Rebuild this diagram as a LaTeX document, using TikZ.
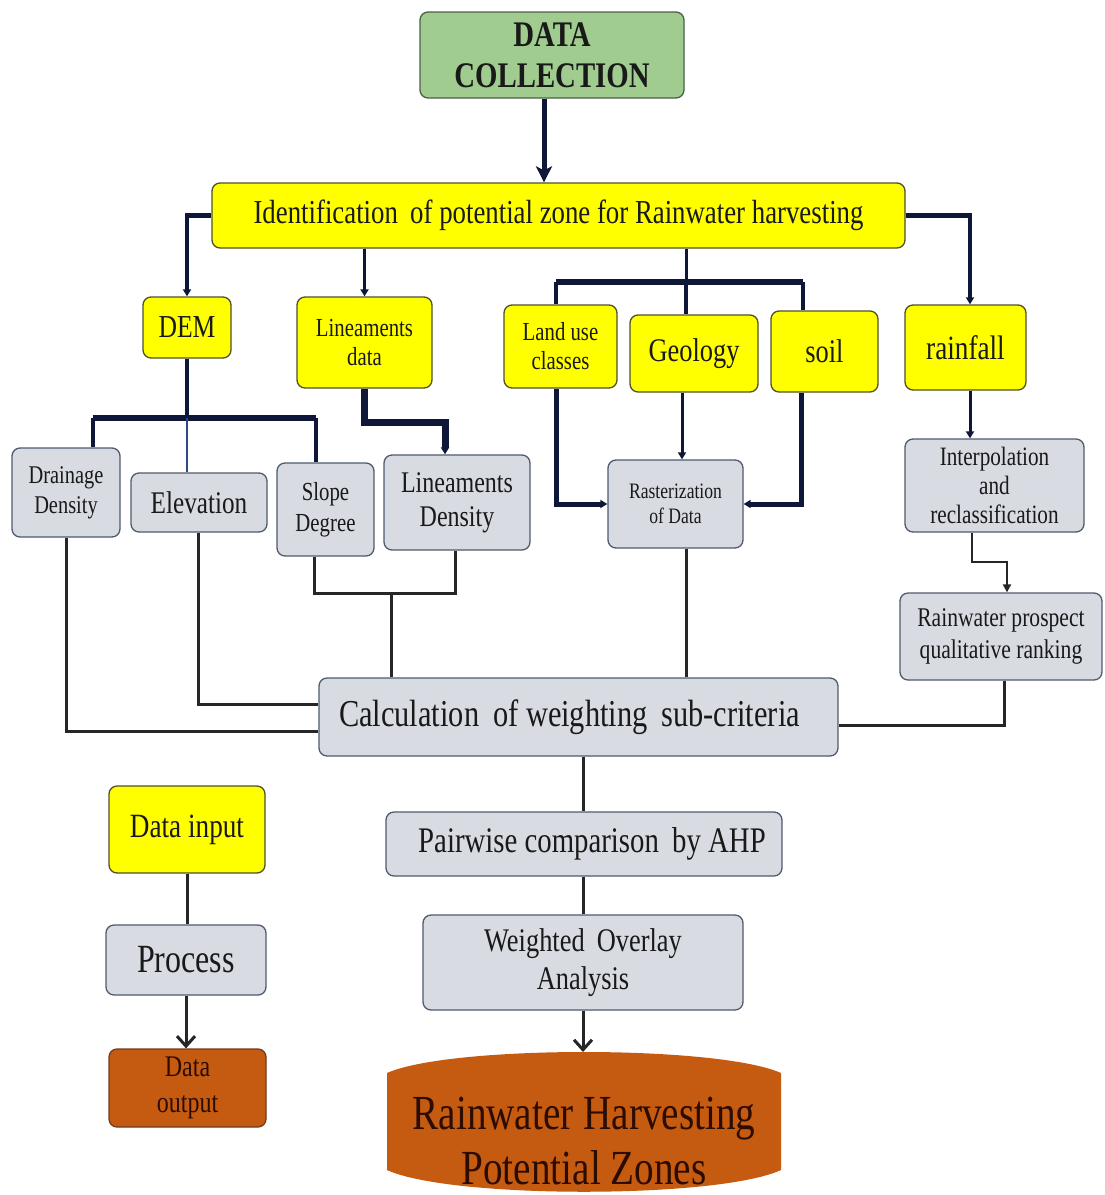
\documentclass[tikz,border=0pt]{standalone}
\usepackage{fontspec}
\setmainfont[FakeStretch=0.8]{Liberation Serif}
\usetikzlibrary{arrows.meta,calc}
\definecolor{yellowc}{RGB}{255,255,0}
\definecolor{yedge}{RGB}{80,80,40}
\definecolor{grayc}{RGB}{216,219,226}
\definecolor{gedge}{RGB}{78,90,110}
\definecolor{greenc}{RGB}{160,204,143}
\definecolor{greenedge}{RGB}{75,95,70}
\definecolor{orangec}{RGB}{197,90,17}
\definecolor{oedge}{RGB}{110,60,30}
\definecolor{navyc}{RGB}{14,23,56}
\definecolor{linec}{RGB}{38,38,38}
\definecolor{bluethin}{RGB}{45,70,135}
\definecolor{txt}{RGB}{25,25,25}
\definecolor{otxt}{RGB}{45,12,0}
\newcommand{\fsz}[2]{\fontsize{#1}{#2}\selectfont}
\tikzset{
  box/.style={rectangle, rounded corners=8pt, line width=1.3pt, align=center, inner sep=1pt, text=txt},
  ybox/.style={box, fill=yellowc, draw=yedge},
  gbox/.style={box, fill=grayc, draw=gedge},
  obox/.style={box, fill=orangec, draw=oedge, text=otxt},
  dcbox/.style={box, fill=greenc, draw=greenedge},
  nav/.style={draw=navyc, line join=miter},
  low/.style={draw=linec, line width=3pt, line join=miter},
  tip/.style={-{Triangle[length=7pt,width=8pt]}},
  bigtip/.style={-{Stealth[length=16pt,width=16pt,inset=4pt]}},
  barb/.style={-{Straight Barb[length=10pt,width=18pt,line width=3pt]}}
}
\begin{document}
\begin{tikzpicture}[x=1pt,y=-1pt]
\useasboundingbox (0,0) rectangle (1104,1195);
% ---------- nodes ----------
\node[dcbox, minimum width=264, minimum height=86, font={\fsz{36}{41}\bfseries}] (dc) at (552,55) {DATA\\COLLECTION};
\node[ybox, minimum width=693, minimum height=65, font={\fsz{33.5}{36}}] (ident) at (558.5,215.5) {Identification\, of potential zone for Rainwater harvesting};
\node[ybox, minimum width=88, minimum height=61, font={\fsz{32}{34}}] (dem) at (187,327.5) {DEM};
\node[ybox, minimum width=135, minimum height=91, font={\fsz{26}{29}}] (lindata) at (364.5,342.5) {Lineaments\\data};
\node[ybox, minimum width=113, minimum height=83, font={\fsz{26}{29}}] (landuse) at (560.5,346.5) {Land use\\classes};
\node[ybox, minimum width=128, minimum height=77, font={\fsz{33}{36}}] (geology) at (694,353.5) {Geology};
\node[ybox, minimum width=107, minimum height=81, font={\fsz{33}{36}}] (soil) at (824.5,351.5) {soil};
\node[ybox, minimum width=121, minimum height=85, font={\fsz{34}{36}}] (rainfall) at (965.5,347.5) {rainfall};
\node[gbox, minimum width=108, minimum height=89, font={\fsz{25.5}{30}}] (drainage) at (66,492.5) {Drainage\\Density};
\node[gbox, minimum width=136, minimum height=59, font={\fsz{31.5}{34}}] (elevation) at (199,502.5) {Elevation};
\node[gbox, minimum width=97, minimum height=93, font={\fsz{26}{31}}] (slope) at (325.5,509.5) {Slope\\Degree};
\node[gbox, minimum width=146, minimum height=95, font={\fsz{30}{34}}] (lindens) at (457,502.5) {Lineaments\\Density};
\node[gbox, minimum width=135, minimum height=88, font={\fsz{22}{25}}] (raster) at (675.5,504) {Rasterization\\of Data};
\node[gbox, minimum width=179, minimum height=93, font={\fsz{26.5}{29}}] (interp) at (994.5,485.5) {Interpolation\\and\\reclassification};
\node[gbox, minimum width=202, minimum height=87, font={\fsz{27}{32}}] (prospect) at (1001,636.5) {Rainwater prospect\\qualitative ranking};
\node[gbox, minimum width=519, minimum height=78, font={\fsz{38}{42}}] (calc) at (578.5,717) {Calculation\, of weighting\, sub-criteria\hspace*{18pt}};
\node[gbox, minimum width=396, minimum height=64, font={\fsz{36}{38}}] (pair) at (584,844) {\hspace*{16pt}Pairwise comparison\, by AHP};
\node[gbox, minimum width=320, minimum height=95, font={\fsz{33}{38}}] (weighted) at (583,962.5) {Weighted\, Overlay\\Analysis};
\node[ybox, minimum width=156, minimum height=87, font={\fsz{34}{36}}] (datainput) at (187,829.5) {Data input};
\node[gbox, minimum width=160, minimum height=70, font={\fsz{40}{42}}] (process) at (186,960) {Process};
\node[obox, minimum width=157, minimum height=78, font={\fsz{30}{36}}] (dataout) at (187.5,1088) {Data\\output};
% cylinder
\fill[orangec] (387,1073) .. controls (450,1045) and (718,1045) .. (781,1073) -- (781,1170) .. controls (718,1199) and (450,1199) .. (387,1170) -- cycle;
\coordinate (cyltop) at (583,1052);
\node[align=center, text=otxt, font={\fsz{49}{55}}] (rhpz) at (584,1141) {Rainwater Harvesting\\Potential Zones};
% ---------- junction coordinates ----------
\coordinate (jDem) at (187,418);
\coordinate (jDr) at (93,418);
\coordinate (jSl) at (316,418);
\coordinate (jLin) at (445,422);
\coordinate (jMid) at (686,282);
\coordinate (jLu) at (556,282);
\coordinate (jSo) at (803,282);
\coordinate (xRf) at (970,0);
\coordinate (jIP) at (972,562);
\coordinate (jIP2) at (1007,562);
\coordinate (jDrC) at (65,731);
\coordinate (jElC) at (198,704);
\coordinate (jS1) at (314,593);
\coordinate (jS2) at (455,593);
\coordinate (jSC) at (391,593);
\coordinate (jPC) at (1004,725);
\coordinate (xGeo) at (682,0);
\coordinate (xSoil) at (801,0);
\coordinate (xLu) at (556,0);
\coordinate (xMain) at (583,0);
% ---------- connectors (top) ----------
\draw[nav, line width=5pt, bigtip] ([xshift=-8pt]dc.south) -- ([xshift=-8pt]dc.south |- ident.north);
\draw[nav, line width=4.5pt, tip] (ident.west) -| (dem.north);
\draw[nav, line width=3pt, tip] (ident.south -| lindata.north) -- (lindata.north);
\draw[nav, line width=3pt] (jMid |- ident.south) -- (jMid);
\draw[nav, line width=6pt] (jLu) -- (jSo);
\draw[nav, line width=4pt] (jLu) -- (jLu |- landuse.north);
\draw[nav, line width=4pt] (jMid) -- (jMid |- geology.north);
\draw[nav, line width=4pt] (jSo) -- (jSo |- soil.north);
\draw[nav, line width=4.5pt, tip] (ident.east) -| (xRf |- rainfall.north);
% DEM branch
\draw[nav, line width=4pt] (dem.south) -- (jDem);
\draw[nav, line width=6pt] (jDr) -- (jSl);
\draw[nav, line width=4pt] (jDr) -- (jDr |- drainage.north);
\draw[draw=bluethin, line width=2pt] (jDem) -- (jDem |- elevation.north);
\draw[nav, line width=4pt] (jSl) -- (jSl |- slope.north);
% Lineaments data
\draw[nav, line width=7pt, tip] (lindata.south) |- (jLin) -- (jLin |- lindens.north);
% land use / geology / soil to rasterization
\draw[nav, line width=5pt, tip] (xLu |- landuse.south) |- (raster.west);
\draw[nav, line width=3pt, tip] (xGeo |- geology.south) -- (xGeo |- raster.north);
\draw[nav, line width=5pt, tip] (xSoil |- soil.south) |- (raster.east);
% rainfall
\draw[nav, line width=3pt, tip] (xRf |- rainfall.south) -- (xRf |- interp.north);
\draw[draw=linec, line width=2pt, line join=miter, -{Triangle[length=8pt,width=8pt]}] (jIP |- interp.south) -- (jIP) -- (jIP2) -- (jIP2 |- prospect.north);
% ---------- connectors (lower) ----------
\draw[low] (drainage.south) |- (jDrC -| calc.west);
\draw[low] (jElC |- elevation.south) |- (jElC -| calc.west);
\draw[low] (jS1 |- slope.south) -- (jS1) -- (jS2) -- (jS2 |- lindens.south);
\draw[low] (jSC) -- (jSC |- calc.north);
\draw[low] (jMid |- raster.south) -- (jMid |- calc.north);
\draw[low] (jPC |- prospect.south) |- (jPC -| calc.east);
\draw[low] (xMain |- calc.south) -- (xMain |- pair.north);
\draw[low] (xMain |- pair.south) -- (xMain |- weighted.north);
\draw[low, barb] (xMain |- weighted.south) -- (cyltop);
\draw[low] (datainput.south) -- (datainput.south |- process.north);
\draw[low, barb] (process.south) -- (process.south |- dataout.north);
\end{tikzpicture}
\end{document}
